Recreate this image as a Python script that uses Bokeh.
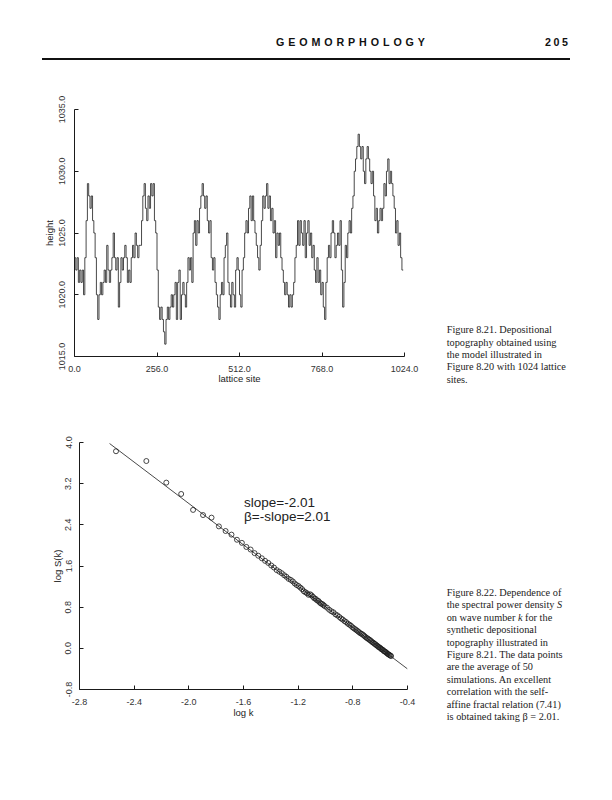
from bokeh.plotting import figure
from bokeh.layouts import column, row
from bokeh.models import Div, FixedTicker, PrintfTickFormatter, Range1d, Label
from bokeh.embed import file_html
from bokeh.resources import INLINE

# ---------------- data: Figure 8.21 (depositional topography) ----------------
lattice_site = list(range(0, 1024, 4))
height = [
    1023, 1022, 1023, 1021, 1022, 1021, 1022, 1020,
    1023, 1026, 1029, 1028, 1027, 1028, 1026, 1025,
    1023, 1020, 1018, 1020, 1021, 1020, 1021, 1022,
    1021, 1024, 1022, 1021, 1022, 1023, 1025, 1023,
    1022, 1023, 1019, 1021, 1023, 1022, 1023, 1024,
    1023, 1021, 1022, 1021, 1023, 1024, 1023, 1025,
    1024, 1023, 1024, 1024, 1026, 1028, 1029, 1027,
    1026, 1028, 1027, 1029, 1028, 1029, 1026, 1025,
    1022, 1019, 1018, 1019, 1018, 1017, 1016, 1018,
    1019, 1018, 1019, 1020, 1019, 1020, 1021, 1018,
    1021, 1022, 1018, 1020, 1021, 1020, 1019, 1021,
    1023, 1022, 1023, 1021, 1025, 1026, 1024, 1026,
    1025, 1027, 1028, 1029, 1028, 1027, 1028, 1026,
    1025, 1026, 1023, 1022, 1023, 1021, 1020, 1019,
    1018, 1020, 1021, 1020, 1023, 1024, 1025, 1021,
    1020, 1019, 1021, 1020, 1019, 1022, 1023, 1022,
    1020, 1019, 1022, 1023, 1025, 1026, 1025, 1027,
    1028, 1026, 1028, 1026, 1025, 1024, 1023, 1022,
    1024, 1026, 1028, 1027, 1028, 1029, 1027, 1028,
    1026, 1027, 1025, 1026, 1023, 1025, 1024, 1025,
    1023, 1022, 1021, 1020, 1021, 1020, 1019, 1020,
    1019, 1020, 1021, 1023, 1024, 1026, 1024, 1026,
    1025, 1024, 1026, 1023, 1025, 1026, 1024, 1025,
    1023, 1024, 1022, 1021, 1023, 1021, 1022, 1020,
    1021, 1019, 1018, 1021, 1023, 1024, 1023, 1025,
    1026, 1025, 1023, 1024, 1025, 1024, 1026, 1022,
    1019, 1021, 1024, 1023, 1025, 1026, 1025, 1027,
    1028, 1030, 1031, 1032, 1033, 1032, 1031, 1032,
    1030, 1029, 1031, 1032, 1031, 1030, 1029, 1030,
    1028, 1026, 1027, 1025, 1026, 1027, 1026, 1027,
    1029, 1028, 1030, 1031, 1029, 1030, 1029, 1028,
    1027, 1025, 1026, 1024, 1025, 1023, 1022, 1022,
]
top_x_ticks = [0, 256, 512, 768, 1024]
top_y_ticks = [1015, 1020, 1025, 1030, 1035]

# ---------------- data: Figure 8.22 (spectral power density) ----------------
log_k = [
    -2.533, -2.311, -2.165, -2.056, -1.969, -1.896, -1.834, -1.780, -1.731,
    -1.688, -1.648, -1.612, -1.579, -1.548, -1.519, -1.492, -1.466, -1.442,
    -1.419, -1.397, -1.377, -1.357, -1.338, -1.320, -1.302, -1.286, -1.270,
    -1.254, -1.239, -1.225, -1.211, -1.197, -1.184, -1.171, -1.159, -1.147,
    -1.135, -1.124, -1.112, -1.102, -1.091, -1.081, -1.071, -1.061, -1.051,
    -1.042, -1.033, -1.023, -1.015, -1.006, -0.989, -0.973, -0.957, -0.942,
    -0.927, -0.913, -0.899, -0.886, -0.874, -0.861, -0.849, -0.837, -0.825,
    -0.814, -0.803, -0.793, -0.782, -0.772, -0.762, -0.753, -0.743, -0.734,
    -0.724, -0.716, -0.707, -0.698, -0.690, -0.682, -0.674, -0.666, -0.658,
    -0.650, -0.643, -0.635, -0.628, -0.621, -0.614, -0.607, -0.600, -0.594,
    -0.587, -0.580, -0.574, -0.568, -0.562, -0.555, -0.549, -0.543, -0.537,
    -0.532, -0.526, -0.520,
]
log_S = [
    3.83, 3.64, 3.22, 3.00, 2.69, 2.59, 2.54, 2.37, 2.28,
    2.21, 2.11, 2.05, 1.97, 1.92, 1.85, 1.80, 1.75, 1.70,
    1.66, 1.61, 1.57, 1.52, 1.49, 1.46, 1.42, 1.39, 1.35,
    1.33, 1.30, 1.26, 1.23, 1.21, 1.18, 1.15, 1.11, 1.09,
    1.07, 1.04, 1.05, 1.03, 1.00, 0.97, 0.96, 0.93, 0.92,
    0.89, 0.87, 0.86, 0.84, 0.82, 0.79, 0.75, 0.72, 0.70,
    0.66, 0.64, 0.61, 0.58, 0.56, 0.53, 0.51, 0.48, 0.46,
    0.44, 0.41, 0.39, 0.37, 0.35, 0.33, 0.31, 0.29, 0.28,
    0.26, 0.24, 0.22, 0.20, 0.19, 0.17, 0.16, 0.14, 0.12,
    0.11, 0.09, 0.08, 0.06, 0.05, 0.03, 0.02, 0.01, -0.01,
    -0.02, -0.03, -0.05, -0.06, -0.07, -0.08, -0.10, -0.11, -0.12,
    -0.13, -0.14, -0.15,
]
fit_log_k = [-2.58, -0.40]
fit_log_S = [3.98, -0.40]
bot_x_ticks = [-2.8, -2.4, -2.0, -1.6, -1.2, -0.8, -0.4]
bot_y_ticks = [-0.8, 0.0, 0.8, 1.6, 2.4, 3.2, 4.0]

AX_FONT = "Liberation Sans"
INK = "#1a1a1a"


def style(p, xlabel, ylabel, xticks, yticks, ytick_standoff, ylab_standoff, xlab_standoff):
    p.xgrid.visible = False
    p.ygrid.visible = False
    p.outline_line_color = None
    p.background_fill_color = "white"
    p.border_fill_color = "white"
    p.xaxis.ticker = FixedTicker(ticks=xticks)
    p.yaxis.ticker = FixedTicker(ticks=yticks)
    for ax in (p.xaxis[0], p.yaxis[0]):
        ax.formatter = PrintfTickFormatter(format="%.1f")
        ax.axis_line_color = INK
        ax.axis_line_width = 1
        ax.major_tick_line_color = INK
        ax.major_tick_in = 4
        ax.major_tick_out = 0
        ax.minor_tick_in = 0
        ax.minor_tick_out = 0
        ax.major_label_text_font = AX_FONT
        ax.major_label_text_font_size = "9px"
        ax.major_label_text_color = "#333333"
        ax.axis_label_text_font = AX_FONT
        ax.axis_label_text_font_size = "9.5px"
        ax.axis_label_text_font_style = "normal"
        ax.axis_label_text_color = "#222222"
    p.xaxis.axis_label = xlabel
    p.yaxis.axis_label = ylabel
    p.yaxis.major_label_orientation = "vertical"
    p.yaxis.major_label_standoff = ytick_standoff
    p.xaxis.major_label_standoff = 9
    p.yaxis.axis_label_standoff = ylab_standoff
    p.xaxis.axis_label_standoff = xlab_standoff


# ---------------- header ----------------
header = Div(
    width=604, height=88, margin=(0, 0, 0, 0),
    text=(
        '<div style="position:relative;width:604px;height:88px;'
        "font-family:'Liberation Sans',Arial,sans-serif;color:#111;\">"
        '<div style="position:absolute;left:276px;top:36px;font-size:10.7px;'
        'font-weight:bold;letter-spacing:3.9px;line-height:13px;white-space:nowrap;">GEOMORPHOLOGY</div>'
        '<div style="position:absolute;left:545px;top:36px;font-size:10.7px;'
        'font-weight:bold;letter-spacing:2.6px;line-height:13px;white-space:nowrap;">205</div>'
        '<div style="position:absolute;left:42px;top:57.8px;width:528px;height:2.5px;background:#111;"></div>'
        '</div>'
    ),
)

# ---------------- top chart ----------------
p1 = figure(
    width=430, height=312, output_backend="svg", toolbar_location=None,
    x_range=Range1d(0, 1024), y_range=Range1d(1015, 1035),
    min_border_left=74, min_border_right=26, min_border_top=21, min_border_bottom=44,
)
p1.step(lattice_site, height, mode="after", line_color=INK, line_width=0.8)
style(p1, "lattice site", "height", top_x_ticks, top_y_ticks, 10, 1, -2)

CAP_STYLE = ("position:absolute;left:16.7px;font-family:'Liberation Serif','Times New Roman',serif;"
             "font-size:10.3px;line-height:12.4px;color:#222;white-space:nowrap;")

cap1 = Div(
    width=174, height=312, margin=(0, 0, 0, 0),
    text=(
        '<div style="position:relative;width:174px;height:312px;">'
        f'<div style="{CAP_STYLE}top:236.2px;">'
        "Figure 8.21. Depositional<br>topography obtained using<br>the model illustrated in<br>"
        "Figure 8.20 with 1024 lattice<br>sites."
        "</div></div>"
    ),
)

# ---------------- bottom chart ----------------
p2 = figure(
    width=430, height=330, output_backend="svg", toolbar_location=None,
    x_range=Range1d(-2.8, -0.4), y_range=Range1d(-0.8, 4.0),
    min_border_left=79, min_border_right=23, min_border_top=42, min_border_bottom=41,
)
p2.line(fit_log_k, fit_log_S, line_color=INK, line_width=0.8)
p2.scatter(log_k, log_S, marker="circle", size=5, fill_color=None,
           line_color=INK, line_width=0.8)
style(p2, "log k", "log S(k)", bot_x_ticks, bot_y_ticks, 8, 0, -1)
p2.add_layout(Label(x=-1.596, y=2.829, text="slope=-2.01", text_font=AX_FONT,
                    text_font_size="13.5px", text_baseline="middle", text_color="#222222"))
p2.add_layout(Label(x=-1.596, y=2.557, text="β=-slope=2.01", text_font=AX_FONT,
                    text_font_size="13.5px", text_baseline="middle", text_color="#222222"))

cap2 = Div(
    width=174, height=330, margin=(0, 0, 0, 0),
    text=(
        '<div style="position:relative;width:174px;height:330px;">'
        f'<div style="{CAP_STYLE}top:187px;">'
        "Figure 8.22. Dependence of<br>the spectral power density <i>S</i><br>"
        "on wave number <i>k</i> for the<br>synthetic depositional<br>"
        "topography illustrated in<br>Figure 8.21. The data points<br>"
        "are the average of 50<br>simulations. An excellent<br>"
        "correlation with the self-<br>affine fractal relation (7.41)<br>"
        "is obtained taking β = 2.01."
        "</div></div>"
    ),
)

layout = column(header, row(p1, cap1, spacing=0), row(p2, cap2, spacing=0), spacing=0)

open("out.html", "w").write(file_html(layout, INLINE))
